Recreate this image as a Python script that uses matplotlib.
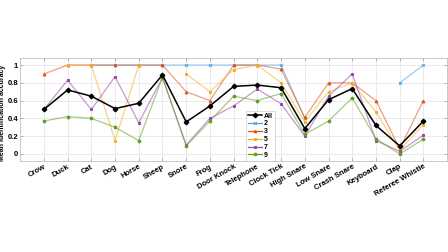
import numpy as np
import matplotlib
matplotlib.use("Agg")
import matplotlib.pyplot as plt

nan = np.nan
categories = ["Crow", "Duck", "Cat", "Dog", "Horse", "Sheep", "Snore", "Frog",
              "Door Knock", "Telephone", "Clock Tick", "High Snare", "Low Snare",
              "Crash Snare", "Keyboard", "Clap", "Referee Whistle"]

all_vals = [0.50, 0.72, 0.65, 0.51, 0.57, 0.89, 0.36, 0.54, 0.76, 0.775, 0.745,
            0.285, 0.61, 0.735, 0.32, 0.09, 0.37]
s2 = [nan, nan, 1.0, 1.0, 1.0, 1.0, 1.0, 1.0, 1.0, 1.0, 1.0,
      0.40, nan, nan, nan, 0.80, 1.0]
s3 = [0.90, 1.0, 1.0, 1.0, 1.0, 1.0, 0.70, 0.60, 1.0, 1.0, 0.955,
      0.41, 0.80, 0.80, 0.60, 0.06, 0.60]
s5 = [nan, 1.0, 1.0, 0.15, 1.0, nan, 0.90, 0.70, 0.95, 1.0, 0.80,
      0.36, 0.70, 0.80, 0.47, 0.04, 0.33]
s7 = [0.50, 0.83, 0.50, 0.87, 0.35, 0.86, 0.10, 0.40, 0.54, 0.73, 0.565,
      0.20, 0.65, 0.90, 0.15, 0.03, 0.21]
s9 = [0.37, 0.42, 0.40, 0.30, 0.15, 0.86, 0.09, 0.37, 0.65, 0.60, 0.68,
      0.22, 0.37, 0.63, 0.17, 0.0, 0.165]

series_names = ["All", "2", "3", "5", "7", "9"]
yticks = [0, 0.2, 0.4, 0.6, 0.8, 1]
ytick_labels = ["0", "0.2", "0.4", "0.6", "0.8", "1"]

plt.rcParams['font.family'] = ['Liberation Sans', 'DejaVu Sans']
plt.rcParams['font.weight'] = 'bold'

fig = plt.figure(figsize=(4.48, 2.52), dpi=100)
ax = fig.add_axes([0.045, 0.361, 0.953, 0.409])

x = np.arange(len(categories))
colors = ["#4DA3DD", "#E0501A", "#F0B020", "#9B45AB", "#5EA020"]
markers = ["x", "^", "s", "s", "o"]
data = [s2, s3, s5, s7, s9]
handles = []
h, = ax.plot(x, all_vals, color="black", lw=1.1, marker="D", ms=2.3, zorder=5, label="All")
handles.append(h)
for d, c, m, n in zip(data, colors, markers, series_names[1:]):
    ax.plot(x, d, color=c, lw=0.9, alpha=0.55, zorder=3)
    ax.plot(x, d, color=c, lw=0, marker=m, ms=2.0, mew=0.7, zorder=4)
    hh, = ax.plot([], [], color=c, lw=0.9, marker=m, ms=2.0, mew=0.7, label=n)
    handles.append(hh)

ax.set_xlim(-1, 17)
ax.set_ylim(-0.08, 1.08)
ax.set_xticks(x)
ax.set_xticklabels(categories, rotation=30, ha="right", rotation_mode="anchor",
                   fontsize=5.5, fontweight="bold")
ax.set_yticks(yticks)
ax.set_yticklabels(ytick_labels, fontsize=5.5, fontweight="bold")
ax.set_ylabel("Mean identification accuracy", fontsize=5.0, fontweight="bold")
ax.yaxis.set_label_coords(-0.033, 0.47)
ax.grid(True, color="#e6e6e6", lw=0.6)
ax.set_axisbelow(True)
for sp in ax.spines.values():
    sp.set_color("#bfbfbf")
    sp.set_linewidth(0.6)
ax.tick_params(axis="both", length=2, width=0.5, color="#999999", pad=1.5,
               top=True, right=True, direction="in")

leg = ax.legend(handles=handles, loc="upper left", bbox_to_anchor=(0.528, 0.49),
                fontsize=5, frameon=True, handlelength=2.0, handletextpad=0.3,
                borderpad=0.3, labelspacing=0.12, fancybox=False, borderaxespad=0)
leg.get_frame().set_edgecolor("#bfbfbf")
leg.get_frame().set_linewidth(0.5)

fig.savefig("out.png", dpi=100)
